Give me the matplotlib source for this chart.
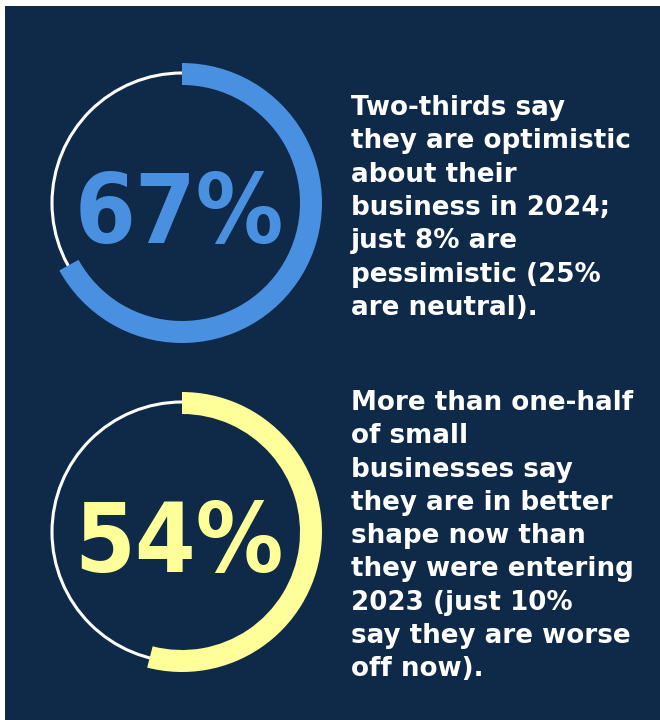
import matplotlib
matplotlib.use('Agg')
import matplotlib.pyplot as plt
from matplotlib.patches import Wedge, Circle, Rectangle

# data
values = [0.67, 0.54]
labels = ['67%', '54%']
colors = ['#4A90E0', '#FFFF99']
texts = [
    ['Two-thirds say', 'they are optimistic', 'about their',
     'business in 2024;', 'just 8% are', 'pessimistic (25%', 'are neutral).'],
    ['More than one-half', 'of small', 'businesses say', 'they are in better',
     'shape now than', 'they were entering', '2023 (just 10%',
     'say they are worse', 'off now).'],
]

navy = '#0E2A48'
W, H = 660, 720
centers = [(182, 517), (182, 188)]
text_top = [605, 310]
line_gap = 33.3

fig = plt.figure(figsize=(W / 100, H / 100), dpi=100)
fig.patch.set_facecolor('white')
ax = fig.add_axes([0, 0, 1, 1])
ax.set_xlim(0, W)
ax.set_ylim(0, H)
ax.axis('off')

ax.add_patch(Rectangle((5, 0), W - 5, H - 6, facecolor=navy, edgecolor='none'))

for v, lab, col, (cx, cy), lines, ty in zip(values, labels, colors, centers, texts, text_top):
    ax.add_patch(Circle((cx, cy), 130, fill=False, edgecolor='white', linewidth=2.2))
    ax.add_patch(Wedge((cx, cy), 140, 90 - 360 * v, 90, width=22,
                       facecolor=col, edgecolor='none'))
    ax.text(cx - 3, cy - 40, lab, color=col, fontsize=70, fontweight='bold',
            fontstretch='condensed', family='DejaVu Sans',
            ha='center', va='baseline')
    for i, line in enumerate(lines):
        ax.text(351, ty - i * line_gap, line, color='white', fontsize=18.8,
                fontweight='bold', family='DejaVu Sans', ha='left', va='baseline')

fig.savefig('out.png', dpi=100, facecolor=fig.get_facecolor())
